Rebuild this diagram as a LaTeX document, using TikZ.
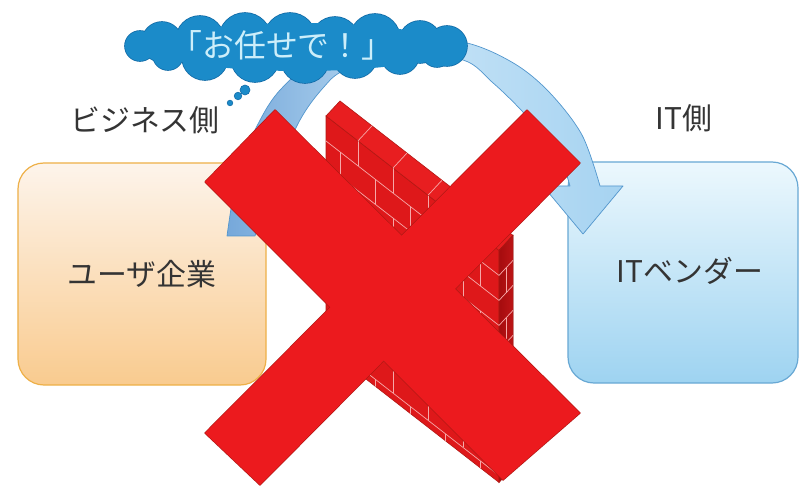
\documentclass[tikz,border=0pt]{standalone}
\usepackage{fontspec}
\setmainfont{Noto Sans CJK JP}
\usepackage{tikz}

\definecolor{userline}{RGB}{238,176,72}
\definecolor{usertop}{RGB}{253,244,235}
\definecolor{userbottom}{RGB}{249,203,143}
\definecolor{vendorline}{RGB}{104,168,212}
\definecolor{vendortop}{RGB}{236,248,253}
\definecolor{vendorbottom}{RGB}{158,211,241}
\definecolor{cloudblue}{RGB}{27,139,201}
\definecolor{cloudline}{RGB}{18,108,168}
\definecolor{cloudtext}{RGB}{204,238,250}
\definecolor{arrowleft}{RGB}{118,168,218}
\definecolor{arrowmid}{RGB}{196,226,246}
\definecolor{arrowright}{RGB}{166,211,241}
\definecolor{arrowline}{RGB}{82,150,205}
\definecolor{crossred}{RGB}{236,26,30}
\definecolor{crossline}{RGB}{178,24,20}
\definecolor{wallfront}{RGB}{222,24,26}
\definecolor{walltop}{RGB}{232,30,32}
\definecolor{wallside}{RGB}{165,12,14}
\definecolor{brickline}{RGB}{246,168,168}
\definecolor{labelgray}{RGB}{52,52,52}

\begin{document}
\begin{tikzpicture}
  [x=1bp, y=-1bp,
  boxtext/.style={font=\fontsize{30}{34}\selectfont, text=labelgray},
  sidelabel/.style={font=\fontsize{30}{34}\selectfont, text=labelgray},
  userbox/.style={draw=userline, line width=1.2bp, rounded corners=26bp, top color=usertop, bottom color=userbottom, minimum width=248bp, minimum height=222bp, inner sep=0pt},
  vendorbox/.style={draw=vendorline, line width=1.2bp, rounded corners=26bp, top color=vendortop, bottom color=vendorbottom, minimum width=230bp, minimum height=221bp, inner sep=0pt},
  puff/.style={fill=cloudblue},
  puffedge/.style={draw=cloudline, line width=1.6bp},
  band/.style={left color=arrowleft, right color=arrowright, middle color=arrowmid, draw=arrowline, line width=0.7bp, line join=round},
  brick/.style={brickline, line width=0.7bp},
  crossedge/.style={draw=crossline, line width=1.4bp, line join=round},
  crossfill/.style={fill=crossred}]
  \useasboundingbox[fill=white] (0,0) rectangle (800,486);

  % the two parties
  \node[userbox, boxtext] (user) at (142,274) {ユーザ企業};
  \node[vendorbox] (vendor) at (683,272.5) {};
  \node[boxtext] (vendortext) at (690,271) {ITベンダー};

  \node[sidelabel] (bizlabel) at (145,120) {ビジネス側};
  \node[sidelabel] (itlabel) at (684,118) {IT側};

  % curved block arrow from user side over to vendor side
  \coordinate (headleft) at (543,186);
  \coordinate (headright) at (623,186);
  \coordinate (headtip) at (583,234);
  \draw[band] plot[smooth, tension=0.55] coordinates {(227,236) (238,172) (258,124) (282,88) (330,50) (400,36) (467,43) (515,64) (550,93) (582,135) (600,186)}
    -- (headright) -- (headtip) -- (headleft)
    -- plot[smooth, tension=0.55] coordinates {(570,186) (556,150) (522,111) (492,82) (463,60) (400,54) (345,70) (323,88) (300,120) (277,172) (255,236)}
    -- cycle;

  % thought cloud
  \foreach \cx/\cy/\r in {140/46/15, 162/42/20, 200/40/24, 245/39/26, 290/39/26, 335/41/24, 375/39/25, 420/42/21, 447/46/20,
    168/55/15, 205/57/23, 255/58/24, 305/59/24, 355/56/22, 400/55/19, 437/52/15}
    \draw[puffedge] (\cx,\cy) circle (\r);
  \foreach \cx/\cy/\r in {140/46/15, 162/42/20, 200/40/24, 245/39/26, 290/39/26, 335/41/24, 375/39/25, 420/42/21, 447/46/20,
    168/55/15, 205/57/23, 255/58/24, 305/59/24, 355/56/22, 400/55/19, 437/52/15}
    \fill[puff] (\cx,\cy) circle (\r);
  \fill[puff] (300,47) ellipse (150 and 24);
  \foreach \cx/\cy/\r in {245/90/5, 238/96/3.8, 230/103/2.8}
    \filldraw[puff, draw=cloudline, line width=0.6bp] (\cx,\cy) circle (\r);
  \node[font=\fontsize{32}{36}\selectfont, text=cloudtext] (omakase) at (282,45) {「お任せで！」};

  % brick wall, sheared along its top edge
  \begin{scope}[cm={1,-0.777,0,1,(326,116)}]
    \filldraw[fill=wallfront, draw=crossline, line width=0.6bp] (0,0) rectangle (173,232);
    \filldraw[fill=walltop, draw=crossline, line width=0.6bp] (0,0) -- (173,0) -- (187,-25.9) -- (14,-25.9) -- cycle;
    \filldraw[left color=wallside, right color=wallfront!85!black, draw=crossline, line width=0.6bp] (173,0) -- (187,-25.9) -- (187,206.1) -- (173,232) -- cycle;
    \begin{scope}
      \clip (0,0) rectangle (173,232);
      \foreach \yy in {25,50,...,225}
        \draw[brick] (0,\yy) -- (173,\yy);
      \foreach \yy in {0,50,...,200}
        \foreach \xx in {32,67,102,137}
          \draw[brick] (\xx,\yy) -- (\xx,\yy+25);
      \foreach \yy in {25,75,...,225}
        \foreach \xx in {14.5,49.5,84.5,119.5,154.5}
          \draw[brick] (\xx,\yy) -- (\xx,\yy+25);
    \end{scope}
    \foreach \xx in {32,67,102,137}
      \draw[brick] (\xx,0) -- (\xx+14,-25.9);
    \foreach \yy in {25,50,...,200}
      \draw[brick] (173,\yy) -- (187,\yy-25.9);
    \foreach \yy in {25,75,...,175}
      \draw[brick] (180,\yy-12.95) -- (180,\yy+12.05);
  \end{scope}

  % the cross, outline first so the crossing stays clean
  \draw[crossedge] (275,110) -- (580,413) -- (503,480) -- (205,182) -- cycle;
  \draw[crossedge] (527,110) -- (580,163) -- (260,485) -- (205,433) -- cycle;
  \fill[crossfill] (275,110) -- (580,413) -- (503,480) -- (205,182) -- cycle;
  \fill[crossfill] (527,110) -- (580,163) -- (260,485) -- (205,433) -- cycle;
\end{tikzpicture}
\end{document}
